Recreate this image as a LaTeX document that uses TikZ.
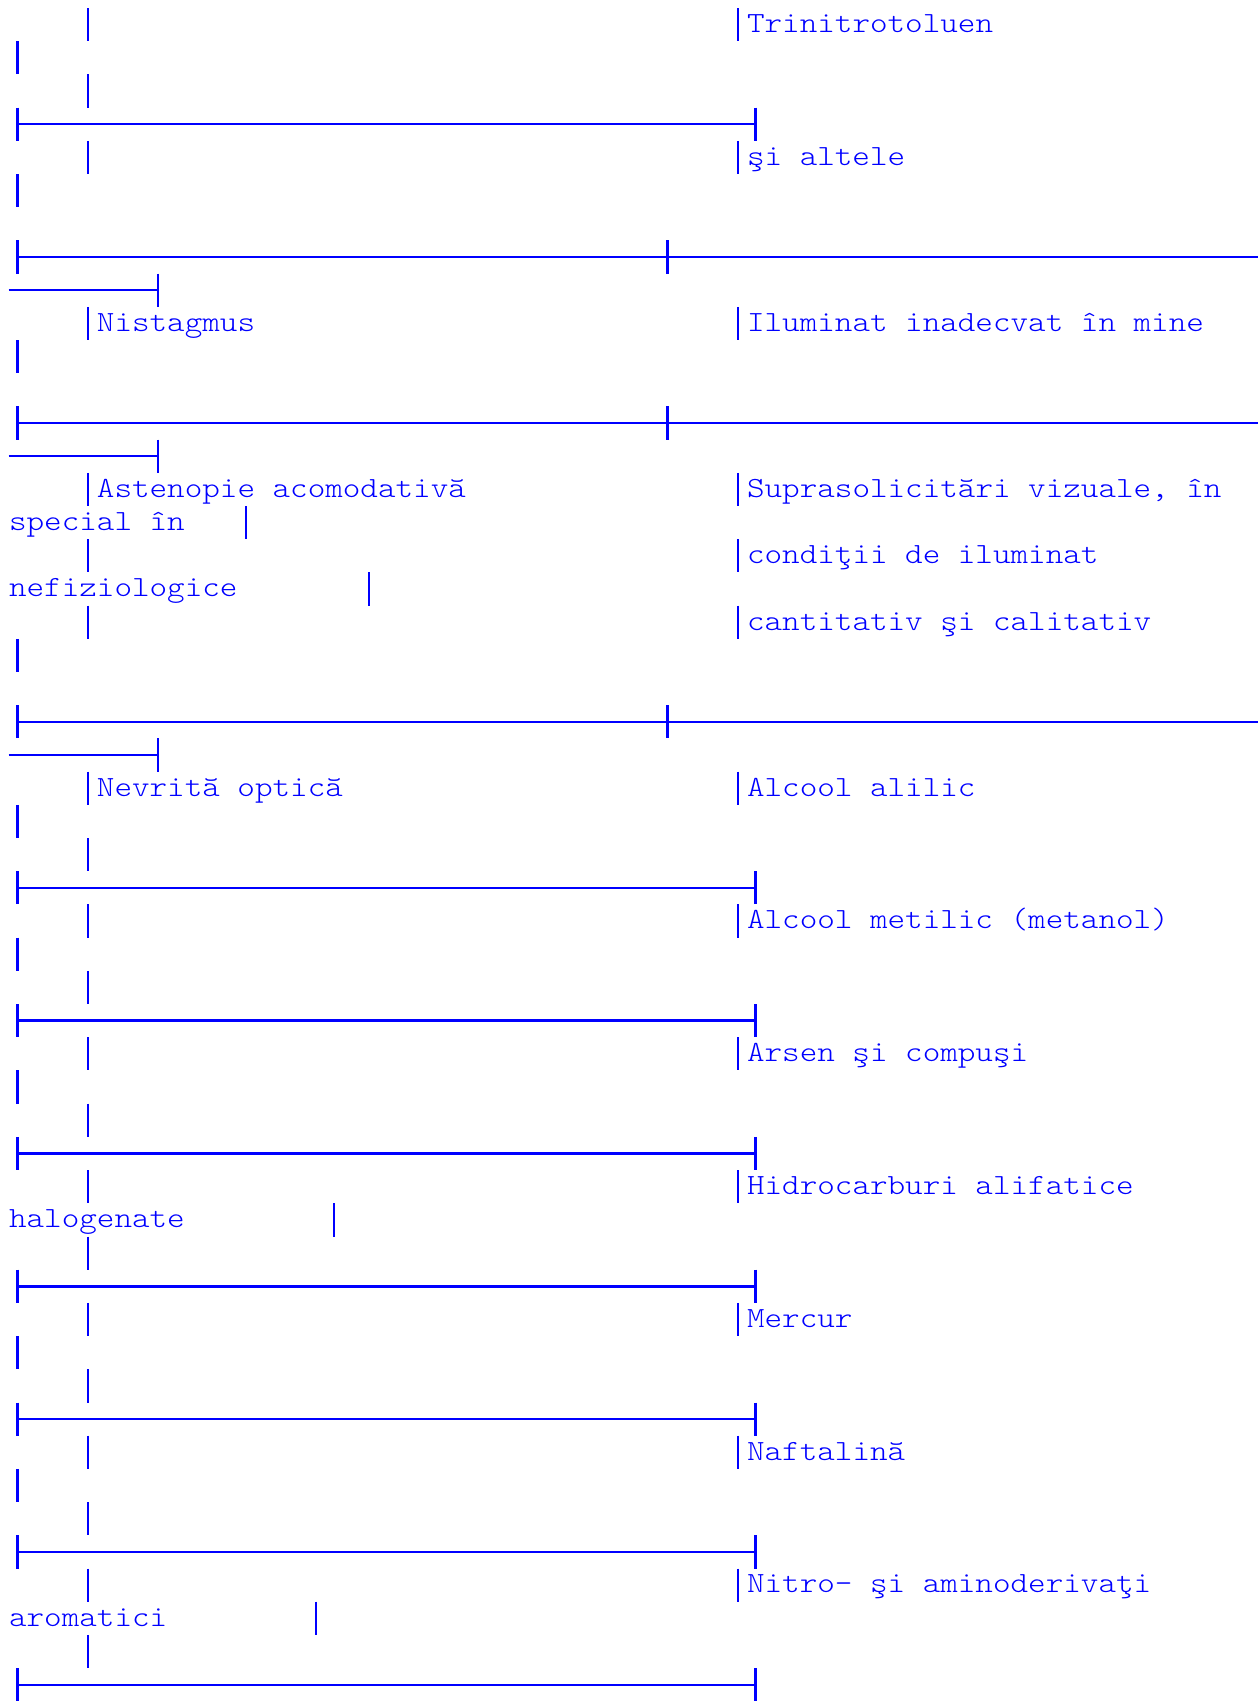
\documentclass[tikz,border=0pt]{standalone}
\usepackage{fontspec}
\setmonofont[FakeStretch=1.143]{Latin Modern Mono Light}
\usepackage{tikz}
\usetikzlibrary{positioning}

\begin{document}
\begin{tikzpicture}[x=8.785pt, y=-16.6pt]
    \tikzstyle{entry} = [font=\ttfamily\fontsize{14.64pt}{16.6pt}\selectfont, text=blue, inner sep=0pt, anchor=base west]
    \tikzstyle{rule} = [draw=blue, line width=1.2pt]

    \useasboundingbox (-0.495,-0.241) rectangle (71.1,50.99);

    % Short rules
    \foreach \r in {3,26,30,34,38,42,46,50} {
        \draw [rule] (0.5,\r) -- ++(0,1);
        \draw [rule] (0.5,\r+0.5) -- (42.5,\r+0.5);
        \draw [rule] (42.5,\r) -- ++(0,1);
    }

    % Long rules, wrapped onto the next line
    \foreach \r in {7,12,21} {
        \draw [rule] (0.5,\r) -- ++(0,1);
        \draw [rule] (37.5,\r) -- ++(0,1);
        \draw [rule] (0.5,\r+0.5) -- (71.1,\r+0.5);
        \draw [rule] (0,\r+1.5) -- (8.5,\r+1.5);
        \draw [rule] (8.5,\r+1) -- ++(0,1);
    }

    % Column bars
    \foreach \r in {1,5,10,19,24,28,32,40,44}
        \draw [rule] (0.5,\r) -- ++(0,1);
    \foreach \r in {0,2,4,9,14,16,18,23,25,27,29,31,33,35,37,39,41,43,45,47,49}
        \draw [rule] (4.5,\r) -- ++(0,1);
    \foreach \r in {0,4,9,14,16,18,23,27,31,35,39,43,47}
        \draw [rule] (41.5,\r) -- ++(0,1);
    \foreach \c/\r in {13/15,20/17,18/36,17/48}
        \draw [rule] (\c+0.5,\r) -- ++(0,1);

    % Left column
    \node [entry] (nistagmus) at (5,9.735) {Nistagmus};
    \node [entry] (astenopie) at (5,14.735) {Astenopie acomodativă};
    \node [entry] (special) at (0,15.735) {special în};
    \node [entry] (nefizio) at (0,17.735) {nefiziologice};
    \node [entry] (nevrita) at (5,23.735) {Nevrită optică};
    \node [entry] (halogen) at (0,36.735) {halogenate};
    \node [entry] (aromatic) at (0,48.735) {aromatici};

    % Right column
    \node [entry] (trinitro) at (42,0.735) {Trinitrotoluen};
    \node [entry] (altele) at (42,4.735) {şi altele};
    \node [entry] (iluminat) at (42,9.735) {Iluminat inadecvat în mine};
    \node [entry] (supra) at (42,14.735) {Suprasolicitări vizuale, în};
    \node [entry] (conditii) at (42,16.735) {condiţii de iluminat};
    \node [entry] (cantit) at (42,18.735) {cantitativ şi calitativ};
    \node [entry] (alilic) at (42,23.735) {Alcool alilic};
    \node [entry] (metilic) at (42,27.735) {Alcool metilic (metanol)};
    \node [entry] (arsen) at (42,31.735) {Arsen şi compuşi};
    \node [entry] (hidrocarb) at (42,35.735) {Hidrocarburi alifatice};
    \node [entry] (mercur) at (42,39.735) {Mercur};
    \node [entry] (naftalina) at (42,43.735) {Naftalină};
    \node [entry] (nitro) at (42,47.735) {Nitro- şi aminoderivaţi};
\end{tikzpicture}
\end{document}
